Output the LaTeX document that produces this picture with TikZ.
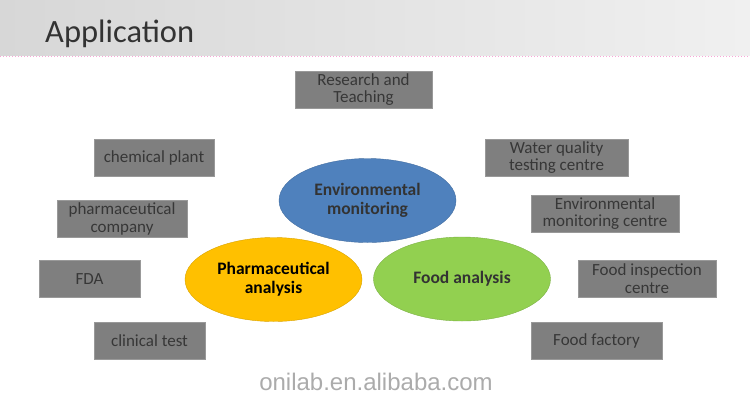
\documentclass[tikz,border=0pt]{standalone}
\usepackage{fontspec}
\setmainfont{Carlito}
\newfontfamily\sitefont{Liberation Sans}
\usepackage{xcolor}
\usepackage{tikz}
\usetikzlibrary{shapes.geometric}
\definecolor{boxgray}{RGB}{127,127,127}
\definecolor{boxtext}{RGB}{55,55,55}
\definecolor{envblue}{RGB}{79,129,189}
\definecolor{pharmyellow}{RGB}{255,192,0}
\definecolor{foodgreen}{RGB}{146,208,80}
\definecolor{bandlight}{RGB}{240,240,240}
\definecolor{banddark}{RGB}{215,215,215}

\begin{document}
\begin{tikzpicture}[x=1pt,y=-1pt,
    appbox/.style={rectangle, fill=boxgray, draw=gray!80, thin, text=boxtext,
                   minimum height=37pt, inner sep=0pt, align=center,
                   font=\fontsize{17}{17.5}\selectfont},
    hub/.style={ellipse, draw=#1!85!black, fill=#1, inner sep=0pt,
                minimum width=177pt, minimum height=84pt, align=center,
                font=\fontsize{17.5}{19}\selectfont\bfseries}]
  \useasboundingbox (0,0) rectangle (750,400);
  % title band
  \shade[left color=banddark, right color=bandlight] (0,0) rectangle (750,55);
  \draw[magenta!35, dotted, line width=1pt] (0,56) -- (750,56);
  \node[anchor=base west, inner sep=0pt, text=black!80,
        font=\fontsize{32.5}{32.5}\selectfont] (title) at (45,42) {Application};
  % the three fields
  \node[hub=envblue, text=black!80] (env) at (367.5,200.5) {Environmental\\monitoring};
  \node[hub=pharmyellow, text=black] (pharm) at (273.5,279.5) {Pharmaceutical\\analysis};
  \node[hub=foodgreen, text=black!80] (food) at (462,279) {Food analysis};
  % users round them
  \foreach \nm/\cx/\cy/\bw/\txt in {
      research/363.5/89.5/137/{Research and\\Teaching},
      chemplant/154/157.5/120/{chemical plant},
      pharmco/122/219/130/{pharmaceutical\\company},
      fda/89.5/279/101/{FDA},
      clinic/149.5/340.5/111/{clinical test},
      water/556.5/157.5/143/{Water quality\\testing centre},
      envcentre/605/213.5/148/{Environmental\\monitoring centre},
      foodinsp/647/278.5/138/{Food inspection\\centre},
      factory/596.5/340.5/131/{Food factory}} {
    \node[appbox, minimum width=\bw pt] (\nm) at (\cx,\cy) {\txt};
  }
  % footer
  \node[text=black!33, font=\sitefont\fontsize{24}{24}\selectfont] (site) at (376,382) {onilab.en.alibaba.com};
\end{tikzpicture}
\end{document}
